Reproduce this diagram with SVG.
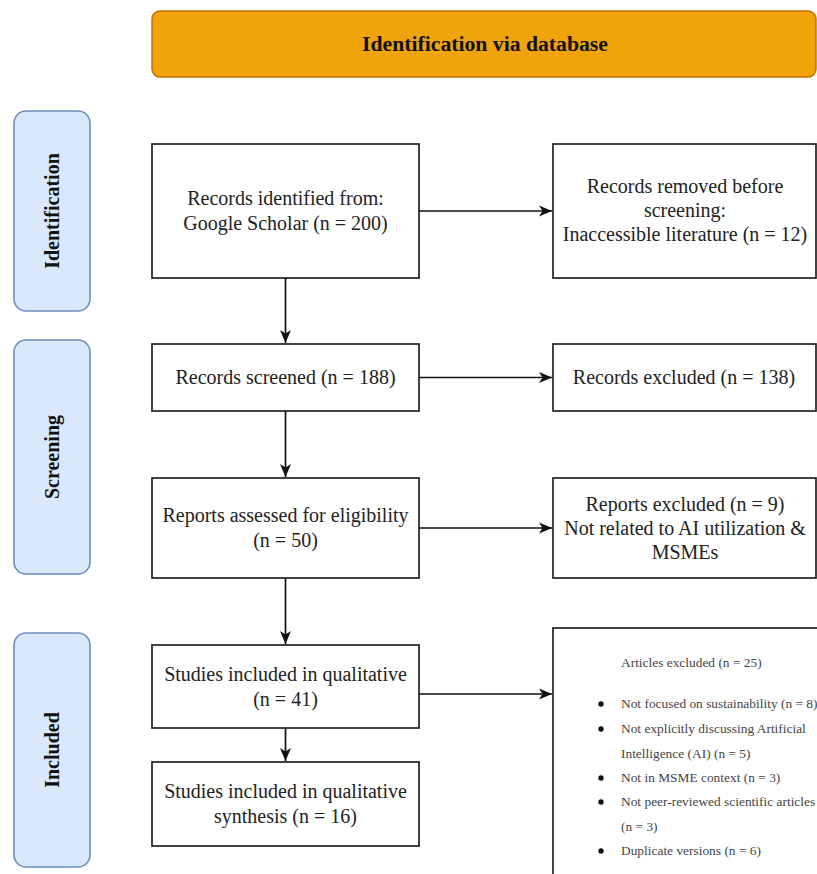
<svg xmlns="http://www.w3.org/2000/svg" width="817" height="874" viewBox="0 0 817 874">
<defs>
<style>
.box{fill:#fff;stroke:#222;stroke-width:1.7}
.side{fill:#dae8fc;stroke:#6c8ebf;stroke-width:1.6}
.hdr{fill:#f0a30a;stroke:#bd7000;stroke-width:1.4}
.t{font-family:"Liberation Serif","Times New Roman",serif;font-size:20px;fill:#222;text-anchor:middle}
.sl{font-family:"Liberation Serif","Times New Roman",serif;font-size:20px;font-weight:bold;fill:#111;text-anchor:middle}
.s{font-family:"Liberation Serif","Times New Roman",serif;font-size:13.4px;fill:#444}
.c{fill:none;stroke:#111;stroke-width:1.7}
</style>
<marker id="ah" markerUnits="userSpaceOnUse" markerWidth="14" markerHeight="14" viewBox="0 0 14 14" refX="13" refY="7" orient="auto">
<path d="M0,1.5 L13,7 L0,12.5 L3.5,7 Z" fill="#111"/>
</marker>
</defs>
<rect width="817" height="874" fill="#fff"/>

<g id="header">
<rect class="hdr" x="152" y="11" width="664" height="66" rx="8"/>
<text class="sl" x="485" y="51" style="font-size:21.7px">Identification via database</text>
</g>

<g id="side-identification">
<rect class="side" x="14" y="111" width="76" height="200" rx="12"/>
<text class="sl" transform="translate(59,211) rotate(-90)">Identification</text>
</g>
<g id="side-screening">
<rect class="side" x="14" y="340" width="76" height="234" rx="12"/>
<text class="sl" transform="translate(59,457) rotate(-90)">Screening</text>
</g>
<g id="side-included">
<rect class="side" x="14" y="633" width="76" height="234" rx="12"/>
<text class="sl" transform="translate(59,750) rotate(-90)">Included</text>
</g>

<g id="records-identified">
<rect class="box" x="152" y="144" width="267" height="134"/>
<text class="t" x="285.5" y="205">Records identified from:</text>
<text class="t" x="285.5" y="230">Google Scholar (n = 200)</text>
</g>
<g id="records-removed">
<rect class="box" x="553" y="144" width="263" height="134"/>
<text class="t" x="685" y="193">Records removed before</text>
<text class="t" x="685" y="217">screening:</text>
<text class="t" x="685" y="241">Inaccessible literature (n = 12)</text>
</g>
<g id="records-screened">
<rect class="box" x="152" y="344" width="267" height="67"/>
<text class="t" x="285.5" y="384">Records screened (n = 188)</text>
</g>
<g id="records-excluded">
<rect class="box" x="553" y="344" width="263" height="67"/>
<text class="t" x="684" y="384">Records excluded (n = 138)</text>
</g>
<g id="reports-assessed">
<rect class="box" x="152" y="478" width="267" height="100"/>
<text class="t" x="285.5" y="522">Reports assessed for eligibility</text>
<text class="t" x="285.5" y="547">(n = 50)</text>
</g>
<g id="reports-excluded">
<rect class="box" x="553" y="478" width="263" height="100"/>
<text class="t" x="685" y="511">Reports excluded (n = 9)</text>
<text class="t" x="685" y="535">Not related to AI utilization &amp;</text>
<text class="t" x="685" y="559">MSMEs</text>
</g>
<g id="studies-qualitative">
<rect class="box" x="152" y="645" width="267" height="83"/>
<text class="t" x="285.5" y="681">Studies included in qualitative</text>
<text class="t" x="285.5" y="706">(n = 41)</text>
</g>
<g id="studies-synthesis">
<rect class="box" x="152" y="762" width="267" height="84"/>
<text class="t" x="285.5" y="798">Studies included in qualitative</text>
<text class="t" x="285.5" y="823">synthesis (n = 16)</text>
</g>
<g id="articles-excluded">
<rect class="box" x="553" y="628" width="275" height="260"/>
<text class="s" x="621" y="667">Articles excluded (n = 25)</text>
<circle cx="601" cy="704" r="2.7" fill="#111"/>
<text class="s" x="621" y="708">Not focused on sustainability (n = 8)</text>
<circle cx="601" cy="729" r="2.7" fill="#111"/>
<text class="s" x="621" y="733">Not explicitly discussing Artificial</text>
<text class="s" x="621" y="758">Intelligence (AI) (n = 5)</text>
<circle cx="601" cy="778" r="2.7" fill="#111"/>
<text class="s" x="621" y="782">Not in MSME context (n = 3)</text>
<circle cx="601" cy="802" r="2.7" fill="#111"/>
<text class="s" x="621" y="806">Not peer-reviewed scientific articles</text>
<text class="s" x="621" y="831">(n = 3)</text>
<circle cx="601" cy="851" r="2.7" fill="#111"/>
<text class="s" x="621" y="855">Duplicate versions (n = 6)</text>
</g>

<g id="connectors">
<line class="c" x1="285.5" y1="278" x2="285.5" y2="343" marker-end="url(#ah)"/>
<line class="c" x1="285.5" y1="411" x2="285.5" y2="477" marker-end="url(#ah)"/>
<line class="c" x1="285.5" y1="578" x2="285.5" y2="644" marker-end="url(#ah)"/>
<line class="c" x1="285.5" y1="728" x2="285.5" y2="761" marker-end="url(#ah)"/>
<line class="c" x1="419" y1="211" x2="552" y2="211" marker-end="url(#ah)"/>
<line class="c" x1="419" y1="377.5" x2="552" y2="377.5" marker-end="url(#ah)"/>
<line class="c" x1="419" y1="528" x2="552" y2="528" marker-end="url(#ah)"/>
<line class="c" x1="419" y1="694" x2="552" y2="694" marker-end="url(#ah)"/>
</g>
</svg>
